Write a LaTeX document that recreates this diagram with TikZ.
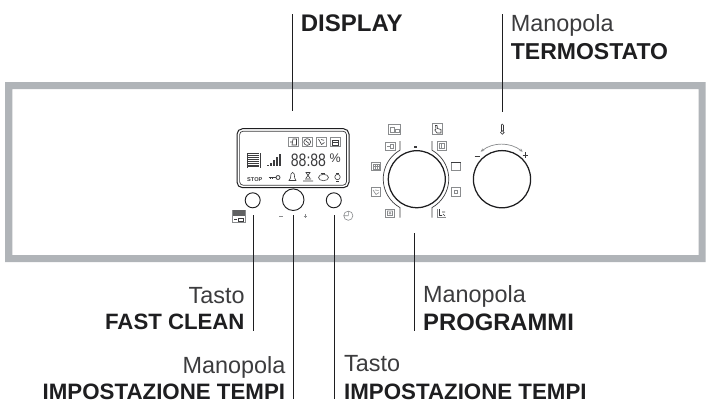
\documentclass[tikz,border=0pt]{standalone}
\usepackage{fontspec}
\setmainfont{Liberation Sans}
\usetikzlibrary{arrows.meta}
\definecolor{band}{HTML}{B0B4B8}
\definecolor{ink}{HTML}{1E1E20}
\definecolor{soft}{HTML}{3C3C3E}
\definecolor{icon}{HTML}{8A8C8E}
\tikzset{
  frameband/.style={fill=band,draw=none,even odd rule},
  leader/.style={draw=ink,line width=0.95pt},
  knob/.style={draw=ink,line width=1.25pt,fill=white},
  btn/.style={draw=ink,line width=0.95pt,fill=white},
  ic/.style={draw=icon,line width=0.6pt},
  icd/.style={draw=soft,line width=0.6pt},
  plainlabel/.style={inner sep=0pt,font=\fontsize{23.4}{24}\selectfont,text=soft},
  boldlabel/.style={inner sep=0pt,font=\fontsize{#1}{24}\selectfont\bfseries,text=ink},
  boldlabel/.default=23,
  lcd/.style={inner sep=0pt,text=soft},
}
\newcommand{\ibox}[4]{\draw[ic] (#1,#2) rectangle (#3,#4);}
\begin{document}
\begin{tikzpicture}[x=1pt,y=-1pt]
\useasboundingbox (0,0) rectangle (710,407);
\fill[white] (0,0) rectangle (710,407);
% panel frame
\path[frameband] (5,82) rectangle (705.5,262) (12.3,89) rectangle (698.5,255);
% knobs and buttons
\node[btn,circle,minimum size=15pt,inner sep=0pt] (bl) at (252.7,200.3) {};
\node[btn,circle,minimum size=21.6pt,inner sep=0pt] (bm) at (293.2,199.7) {};
\node[btn,circle,minimum size=15pt,inner sep=0pt] (br) at (333.8,200.3) {};
% programme arcs
\draw[draw=soft,line width=0.7pt] (400,141) -- (400,150.2) arc[start angle=240.5,end angle=119.5,radius=33] -- (400,217.5);
\draw[draw=soft,line width=0.7pt] (432,141) -- (432,150.2) arc[start angle=-60.5,end angle=60.5,radius=33] -- (432,217.5);
\node[knob,circle,minimum size=57pt,inner sep=0pt] (kp) at (416.8,179.2) {};
\node[knob,circle,minimum size=57.2pt,inner sep=0pt] (kt) at (502,179.2) {};
\fill[soft] (414.4,146) rectangle (416.8,148.4);
% thermostat arc
\draw[draw=icon,line width=0.7pt,{Stealth[length=3.5pt,width=3pt]}-{Stealth[length=3.5pt,width=3pt]}] (480.7,151.7) .. controls (493,142) and (510,142) .. (522.7,151.7);
\draw[icd,line width=0.8pt] (474.5,156.7) -- (480,156.7);
\draw[icd,line width=0.7pt] (522.7,155) -- (528,155) (525.3,152.3) -- (525.3,157.7);
% thermometer
\draw[icd] (501.3,125) -- (501.3,131) (503.3,125) -- (503.3,131);
\draw[icd] (501.3,125) arc[start angle=180,end angle=360,radius=1];
\draw[icd,fill=white] (502.3,132.5) circle[radius=1.8];
% programme icons
\ibox{388.3}{124.5}{400.7}{134}
\draw[ic] (390.5,127) rectangle (394,132) (395.5,129) rectangle (399,132);
\ibox{431.8}{123.5}{442.7}{134.3}
\draw[icd] (435.5,125.5) -- (436,129) -- (434.8,130) -- (437,133) -- (441,133) -- (441,129.5) -- (437.5,128.5) -- (437,125.5) -- cycle;
\ibox{385.3}{142.3}{395}{150}
\draw[ic] (387,146) -- (390,146) (390,144) rectangle (393.5,148.5);
\ibox{437.3}{141.7}{446}{150}
\draw[ic] (439.3,143.5) rectangle (444,148.2) (441.6,143.5) -- (441.6,148.2);
\ibox{371.3}{162}{380.7}{170.7}
\draw[ic] (373,164) rectangle (379,169) (373,166) -- (379,166) (375,164) -- (375,169) (377,164) -- (377,169);
\ibox{451.3}{162}{460.7}{170.7}
\draw[icd,line width=1pt] (451.3,162.3) -- (460.7,162.3);
\ibox{371.3}{187.7}{380.7}{196.3}
\draw[ic] (373,190) -- (376,194.5) -- (379,192.5) (375,190) -- (378.5,190.5);
\ibox{451.3}{187.3}{460.7}{196.7}
\draw[ic] (454.5,190.5) rectangle (457.5,193.5);
\ibox{385.7}{209}{394.3}{217.3}
\draw[ic] (387.5,211) rectangle (392.5,215.5) (390,213.2) circle[radius=1];
\draw[ic] (437.3,209) -- (437.3,217.7) -- (446,217.7);
\draw[icd] (439.5,209) -- (439.5,215.5) -- (442,215.5) (442,212) -- (445,212) (443,214) -- (445,216);
% display
\draw[draw=ink,line width=1pt,rounded corners=5.5pt] (237,128.7) rectangle (349,187.7);
\draw[draw=soft,line width=0.7pt,rounded corners=3.5pt] (239.6,131.2) rectangle (346.5,185.2);
\ibox{288.5}{137.3}{298}{146.7}
\draw[icd] (290,142) -- (292.5,142) (293,139) -- (296.5,139) -- (296.5,145) -- (292,145) -- cycle;
\ibox{302.5}{137.3}{312}{146.7}
\draw[icd] (307.2,142) circle[radius=3.4];
\draw[icd] (305.5,140.5) -- (309,143.5);
\ibox{316.5}{137.3}{326}{146.7}
\draw[icd] (318.5,139) -- (321.5,144.5) -- (324.5,142.5) (321,139.5) -- (324,140.3);
\ibox{330.5}{137.3}{340}{146.7}
\draw[icd] (332.5,140) rectangle (338,145) (332.5,142) -- (338,142);
% bar stack
\foreach \yy in {153.5,155.4,157.3,159.2,161.1,163,164.9,166.8}{\draw[icd,line width=0.8pt] (248,\yy) -- (258.5,\yy);}
\draw[icd] (246.8,153) -- (246.8,167.5) (259.8,153) -- (259.8,167.5);
% signal bars
\foreach \xx/\yy in {268/164.5,271/163,274/160,277/157,280/154}{\draw[icd,line width=1.15pt] (\xx,165.5) -- (\xx,\yy);}
% readout texts
\node[lcd,anchor=base west,font=\fontsize{18}{19}\selectfont] (digits) at (290.7,166) {\scalebox{0.78}[1]{88:88}};
\node[lcd,anchor=base west,font=\fontsize{12.5}{13}\selectfont] (pct) at (329.5,162.5) {\%};
\node[lcd,anchor=base west,font=\fontsize{5.6}{6}\selectfont\bfseries] (stop) at (247,181) {STOP};
% key
\draw[icd,line width=0.8pt] (268.5,177.5) -- (276,177.5) (270,177.5) -- (270,179.3) (272,177.5) -- (272,179.3);
\draw[icd,line width=0.8pt] (278,177.5) circle[radius=2];
% bell
\draw[icd] (289,180.5) -- (290.5,178) -- (291,174) arc[start angle=180,end angle=360,radius=1.6] -- (294.7,178) -- (296,180.5) -- cycle;
% timer icon
\draw[icd] (303,181) -- (313,181) (305,179) -- (311,179) (306,172.5) -- (310,172.5) -- (308,175.5) -- cycle (306,178) -- (308,175.5) -- (310,178);
% oval icon
\draw[icd] (323.5,177.5) ellipse[x radius=5,y radius=3.2];
\draw[icd] (320.5,173.5) -- (325,173.5);
% watch icon
\draw[icd] (337.5,177) circle[radius=2.7];
\draw[icd] (336,173) -- (339,173) (336,181) -- (339,181);
% fast clean icon
\draw[ic] (232.3,210) rectangle (245,222.7);
\fill[icon!70!black] (232.6,210.3) rectangle (244.7,216);
\draw[icd] (234,219) -- (237,219) (238,218) rectangle (243.5,221);
% symbols under buttons
\draw[icon,line width=0.8pt] (279,216.7) -- (282.5,216.7);
\draw[ic] (303.5,216) -- (307,216) (305.3,214.3) -- (305.3,217.7);
\draw[ic] (348.3,215.7) circle[radius=4.6] (348.3,215.7) -- (344,215.7) (348.3,215.7) -- (348.3,211.2);
% labels
\node[boldlabel=24,anchor=base west] (disp) at (300.7,31) {DISPLAY};
\node[plainlabel,anchor=base west] (mt) at (510.7,31) {Manopola};
\node[boldlabel=23,anchor=base west] (term) at (510.7,59.5) {TERMOSTATO};
\node[plainlabel,anchor=base east] (tf) at (244.7,303) {Tasto};
\node[boldlabel=22.2,anchor=base east] (fc) at (244.7,329.5) {FAST CLEAN};
\node[plainlabel,anchor=base east] (mi) at (285.6,373.3) {Manopola};
\node[boldlabel=22.3,anchor=base east] (ti) at (285.3,399) {IMPOSTAZIONE TEMPI};
\node[plainlabel,anchor=base west] (mp) at (423,302.7) {Manopola};
\node[boldlabel=23.8,anchor=base west] (pr) at (423,330) {PROGRAMMI};
\node[plainlabel,anchor=base west] (tt) at (344,371) {Tasto};
\node[boldlabel=22.3,anchor=base west] (tit) at (344,399) {IMPOSTAZIONE TEMPI};
% leaders
\coordinate (dt) at (292,14);
\coordinate (db) at (292,111);
\coordinate (tt1) at (502,14);
\coordinate (tb1) at (502,112);
\coordinate (l1a) at (253.5,215);
\coordinate (l1b) at (253.5,331);
\coordinate (l2a) at (293.7,215);
\coordinate (l2b) at (293.7,399);
\coordinate (l3a) at (334.3,215);
\coordinate (l3b) at (334.3,399);
\coordinate (l4a) at (414.7,233);
\coordinate (l4b) at (414.7,330.5);
\draw[leader] (dt) -- (db);
\draw[leader] (tt1) -- (tb1);
\draw[leader] (l1a) -- (l1b);
\draw[leader] (l2a) -- (l2b);
\draw[leader] (l3a) -- (l3b);
\draw[leader] (l4a) -- (l4b);
\end{tikzpicture}
\end{document}
